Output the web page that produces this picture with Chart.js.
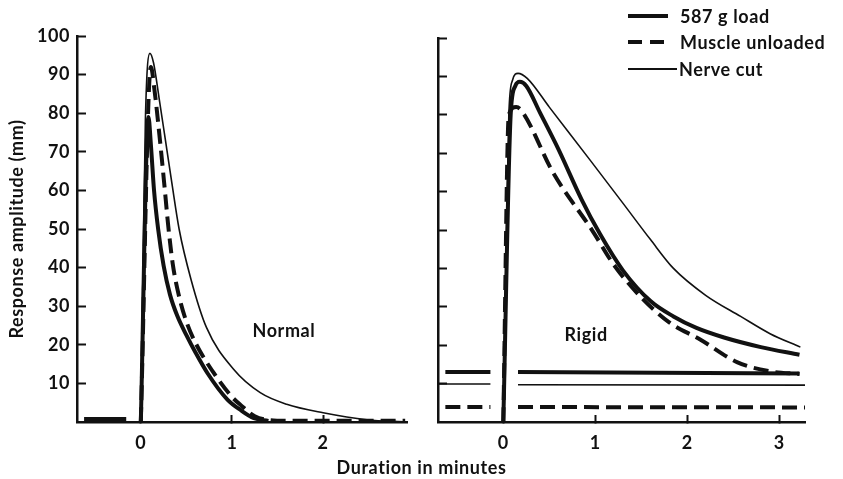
<!DOCTYPE html>
<html>
<head>
<meta charset="utf-8">
<script src="https://cdn.jsdelivr.net/npm/chart.js@4.4.1/dist/chart.umd.min.js"></script>
<style>
  html, body { margin: 0; padding: 0; background: #fff; }
  #wrap { position: relative; width: 843px; height: 479px; font-family: Lato, sans-serif; color: #111; font-weight: bold; }
  #left { position: absolute; left: 0; top: 0; width: 420px; height: 479px; }
  #right { position: absolute; left: 420px; top: 0; width: 423px; height: 479px; }
  #xtitle { position: absolute; left: 0; top: 456px; width: 843px; text-align: center;
            font-size: 18px; line-height: 22px; letter-spacing: 0.6px; }
  .row { position: absolute; left: 628px; height: 22px; line-height: 22px; display: flex; align-items: center;
         font-size: 18px; letter-spacing: 0.6px; white-space: nowrap; }
  .sw { height: 4px; width: 40px; margin-right: 12px; }
</style>
</head>
<body>
<div id="wrap">
  <div id="left"><canvas id="normalChart"></canvas></div>
  <div id="right"><canvas id="rigidChart"></canvas></div>
  <div id="xtitle">Duration in minutes</div>
  <div id="legend"></div>
</div>
<script>
const ink = '#111';

const seriesNames = ['587 g load', 'Muscle unloaded', 'Nerve cut'];
const yTicks = [10, 20, 30, 40, 50, 60, 70, 80, 90, 100];
const xTicksNormal = [0, 1, 2];
const xTicksRigid = [0, 1, 2, 3];

// Normal muscle - time in minutes, amplitude in mm (null = pen lifted)
const normalLoadT = [-0.62, -0.16, -0.08, 0, 0.084, 0.11, 0.145, 0.19, 0.25, 0.32, 0.4, 0.5, 0.6, 0.73, 0.95, 1.1, 1.24, 1.4];
const normalLoadV = [0.8, 0.8, null, 0, 79, 72, 60, 50, 40.5, 33, 27.5, 22.5, 18, 12.7, 5.8, 3, 1, 0.3];
const normalUnloadT = [-0.62, -0.16, -0.08, 0, 0.11, 0.15, 0.21, 0.26, 0.3, 0.35, 0.42, 0.5, 0.6, 0.8, 1.0, 1.1, 1.25, 1.4, 1.6, 2.9];
const normalUnloadV = [0.8, 0.8, null, 0, 92, 86, 73, 61, 51, 41, 32.5, 26, 20.5, 12.7, 6.5, 4.3, 1.5, 0.5, 0.3, 0.3];
const normalCutT = [0, 0.05, 0.1, 0.14, 0.2, 0.27, 0.34, 0.42, 0.55, 0.72, 1.02, 1.31, 1.6, 2.0, 2.48, 2.92];
const normalCutV = [0, 78, 95.5, 93, 84, 73, 62, 50, 37, 24.5, 13.6, 7.6, 4.6, 2.4, 0.6, 0];

// Rigid muscle
const rigidLoadT = [0, 0.08, 0.13, 0.18, 0.25, 0.4, 0.6, 0.85, 1.05, 1.3, 1.6, 1.85, 2.1, 2.4, 2.8, 3.22];
const rigidLoadV = [0, 80, 87.5, 88.6, 87.5, 80.5, 71, 58, 49, 39.5, 31.5, 27.5, 24.5, 22, 19.5, 17.5];
const rigidUnloadT = [0, 0.06, 0.14, 0.2, 0.54, 0.98, 1.2, 1.49, 1.8, 2.14, 2.54, 2.9, 3.22];
const rigidUnloadV = [0, 80, 82, 81, 65, 49.4, 41, 32.7, 26, 21.5, 15.6, 13.2, 12.5];
const rigidCutT = [0, 0.06, 0.1, 0.16, 0.26, 0.5, 0.95, 1.3, 1.6, 1.85, 2.2, 2.58, 2.9, 3.23];
const rigidCutV = [0, 80, 89, 90.8, 89.5, 82, 68, 57, 47.5, 40, 33, 27.5, 23, 19.5];

// resting levels before / after the rigid response
const rigidLoadBaseT = [-0.63, -0.14, 0, 0.16, 3.22];
const rigidLoadBaseV = [13, 13, null, 13, 12.6];
const rigidUnloadBaseT = [-0.63, -0.14, 0, 0.16, 3.28];
const rigidUnloadBaseV = [3.9, 3.9, null, 3.9, 3.8];
const rigidCutBaseT = [-0.71, -0.14, 0, 0.16, 3.28];
const rigidCutBaseV = [9.9, 9.9, null, 9.7, 9.6];

const styles = [
    { borderWidth: 4 },
    { borderWidth: 4, borderDash: [15, 7] },
    { borderWidth: 1.6 }
];

function toPoints(ts, vs) {
    return ts.map((t, i) => ({ x: t, y: vs[i] }));
}

function line(label, ts, vs, style) {
    return Object.assign({
        label: label,
        data: toPoints(ts, vs),
        borderColor: ink,
        fill: false,
        spanGaps: false,
        pointRadius: 0,
        cubicInterpolationMode: 'monotone',
        borderJoinStyle: 'round'
    }, style);
}

Chart.defaults.font.family = 'Lato, sans-serif';
Chart.defaults.font.size = 18;
Chart.defaults.font.weight = 'bold';
Chart.defaults.color = ink;

const spacing = {
    id: 'spacing',
    beforeDraw(chart) { chart.ctx.letterSpacing = '0.6px'; }
};

const panelLabel = {
    id: 'panelLabel',
    afterDatasetsDraw(chart, args, opts) {
        const ctx = chart.ctx;
        ctx.save();
        ctx.font = 'bold 18px Lato, sans-serif';
        ctx.fillStyle = ink;
        ctx.textAlign = 'center';
        ctx.textBaseline = 'middle';
        ctx.fillText(opts.text, chart.scales.x.getPixelForValue(opts.x), chart.scales.y.getPixelForValue(opts.y));
        ctx.restore();
    }
};

function scaleX(min, max, ticks) {
    return {
        type: 'linear', min: min, max: max,
        afterBuildTicks: s => { s.ticks = ticks.map(v => ({ value: v })); },
        afterFit: s => { s.height = 57; },
        grid: { drawOnChartArea: false, drawTicks: true, tickLength: -7, tickWidth: 2, color: ink },
        border: { display: true, width: 2.5, color: ink },
        ticks: { padding: 17, color: ink }
    };
}

function scaleY(width, showLabels) {
    return {
        min: 0, max: 100,
        afterBuildTicks: s => { s.ticks = yTicks.map(v => ({ value: v })); },
        afterFit: s => { s.width = width; },
        grid: { drawOnChartArea: false, drawTicks: true, tickLength: -9, tickWidth: 2, color: ink },
        border: { display: true, width: 2.5, color: ink },
        ticks: { padding: 16, color: ink, callback: v => showLabels ? v : '' },
        title: { display: showLabels, text: 'Response amplitude (mm)', color: ink, padding: { top: 6, bottom: 0 } }
    };
}

function baseOptions(pad, label, xScale, yScale) {
    return {
        responsive: true,
        maintainAspectRatio: false,
        animation: false,
        layout: { padding: pad },
        plugins: { legend: { display: false }, tooltip: { enabled: false }, panelLabel: label },
        scales: { x: xScale, y: yScale }
    };
}

new Chart(document.getElementById('normalChart'), {
    type: 'line',
    data: {
        datasets: [
            line(seriesNames[0], normalLoadT, normalLoadV, styles[0]),
            line(seriesNames[1], normalUnloadT, normalUnloadV, styles[1]),
            line(seriesNames[2], normalCutT, normalCutV, styles[2])
        ]
    },
    options: baseOptions({ top: 36, right: 13, left: 0, bottom: 0 },
        { text: 'Normal', x: 1.57, y: 23.4 },
        scaleX(-0.7, 2.92, xTicksNormal), scaleY(77, true)),
    plugins: [spacing, panelLabel]
});

new Chart(document.getElementById('rigidChart'), {
    type: 'line',
    data: {
        datasets: [
            line(seriesNames[0], rigidLoadT, rigidLoadV, styles[0]),
            line(seriesNames[1], rigidUnloadT, rigidUnloadV, styles[1]),
            line(seriesNames[2], rigidCutT, rigidCutV, styles[2]),
            line(seriesNames[0], rigidLoadBaseT, rigidLoadBaseV, styles[0]),
            line(seriesNames[1], rigidUnloadBaseT, rigidUnloadBaseV, styles[1]),
            line(seriesNames[2], rigidCutBaseT, rigidCutBaseV, styles[2])
        ]
    },
    options: baseOptions({ top: 38, right: 38, left: 0, bottom: 0 },
        { text: 'Rigid', x: 0.9, y: 22.6 },
        scaleX(-0.71, 3.28, xTicksRigid), scaleY(18, false)),
    plugins: [spacing, panelLabel]
});

// legend, top right
var legend = document.getElementById('legend');
var rowTops = [5, 31, 58];
seriesNames.forEach((name, i) => {
    var row = document.createElement('div');
    row.className = 'row';
    row.style.top = rowTops[i] + 'px';
    var sw = document.createElement('div');
    sw.className = 'sw';
    if (i === 0) {
        sw.style.background = ink;
    } else if (i === 1) {
        sw.style.background = 'repeating-linear-gradient(to right, ' + ink + ' 0 14px, transparent 14px 22px)';
    } else {
        sw.style.height = '1.6px';
        sw.style.width = '49px';
        sw.style.marginRight = '2px';
        sw.style.background = ink;
    }
    row.appendChild(sw);
    row.appendChild(document.createTextNode(name));
    legend.appendChild(row);
});
</script>
</body>
</html>
